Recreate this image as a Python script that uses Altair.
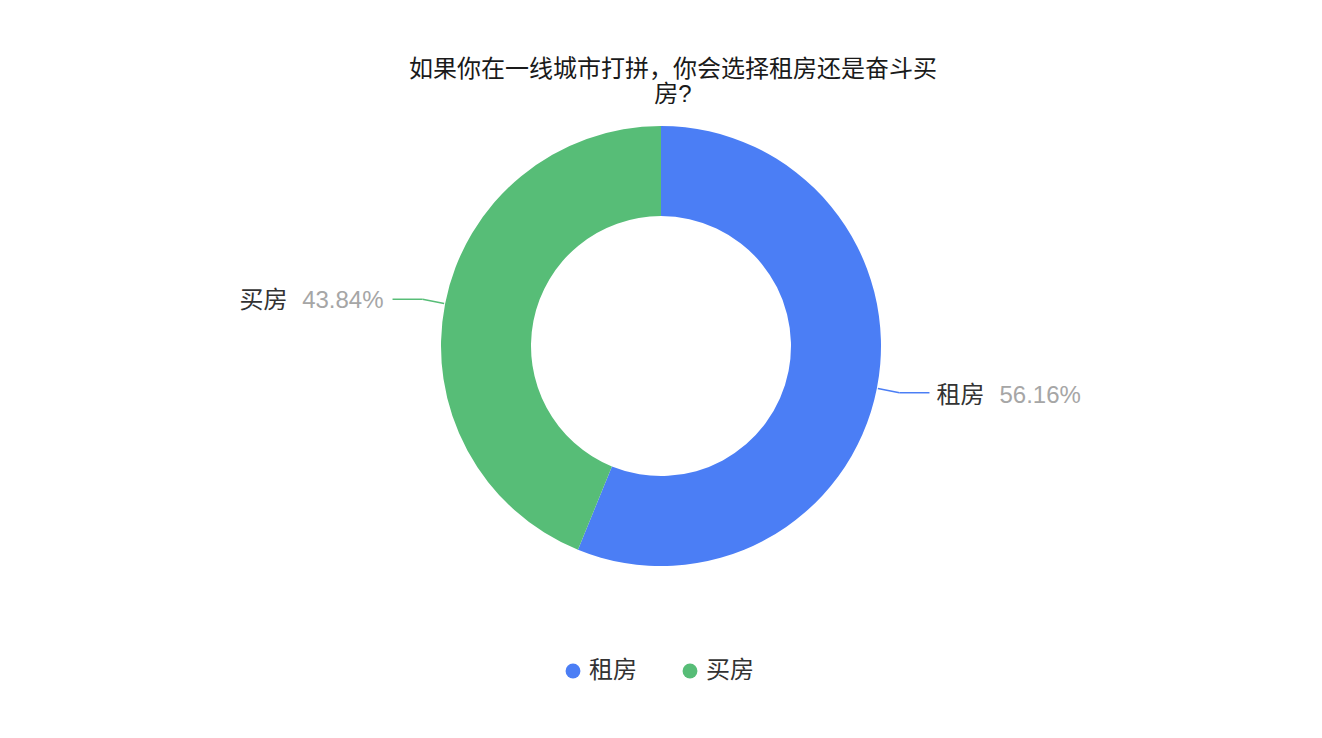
import altair as alt
import pandas as pd

categories = ["租房", "买房"]
values = [56.16, 43.84]
colors = ["#4B7EF5", "#57BD77"]
title_lines = ["如果你在一线城市打拼，你会选择租房还是奋斗买", "房?"]

W = 1306
H = 462
CX = W / 2
CY = H / 2
R_OUT = 220
R_IN = 130

df = pd.DataFrame({"category": categories, "value": values, "order": list(range(len(categories)))})

FONT = "Liberation Sans, Noto Sans CJK SC, sans-serif"

color_scale = alt.Scale(domain=categories, range=colors)

base = alt.Chart(df).transform_joinaggregate(
    total="sum(value)"
).transform_window(
    cum="sum(value)", sort=[alt.SortField("order")], frame=[None, 0]
).transform_calculate(
    mid="2*PI*(datum.cum - datum.value/2)/datum.total",
).transform_calculate(
    side="sin(datum.mid) >= 0 ? 1 : -1",
    x1=f"{CX} + {R_OUT + 1}*sin(datum.mid)",
    y1=f"{CY} - {R_OUT + 1}*cos(datum.mid)",
    x2=f"{CX} + {R_OUT + 23}*sin(datum.mid)",
    y2=f"{CY} - {R_OUT + 23}*cos(datum.mid)",
    pct="format(datum.value, '.2f') + '%'",
).transform_calculate(
    x3="datum.x2 + datum.side*30",
)

arc = alt.Chart(df).mark_arc(innerRadius=R_IN, outerRadius=R_OUT).encode(
    theta=alt.Theta("value:Q", stack=True),
    order=alt.Order("order:Q"),
    color=alt.Color(
        "category:N",
        scale=color_scale,
        sort=categories,
        legend=alt.Legend(
            title=None,
            orient="none",
            direction="horizontal",
            legendX=553,
            legendY=544,
            symbolType="circle",
            symbolSize=220,
            symbolStrokeWidth=0,
            labelFontSize=24,
            labelFont=FONT,
            labelColor="#333333",
            labelOffset=4,
            columnPadding=41,
        ),
    ),
)

lead1 = base.mark_rule(strokeWidth=1.5).encode(
    x=alt.X("x1:Q", scale=None),
    y=alt.Y("y1:Q", scale=None),
    x2="x2:Q",
    y2="y2:Q",
    color=alt.Color("category:N", scale=color_scale, legend=None),
)
lead2 = base.mark_rule(strokeWidth=1.5).encode(
    x=alt.X("x2:Q", scale=None),
    y=alt.Y("y2:Q", scale=None),
    x2="x3:Q",
    y2="y2:Q",
    color=alt.Color("category:N", scale=color_scale, legend=None),
)

right = base.transform_filter("datum.side > 0")
left = base.transform_filter("datum.side < 0")

name_r = right.mark_text(align="left", baseline="middle", fontSize=24, font=FONT, color="#333333", dy=3).encode(
    x=alt.X("x3:Q", scale=None), y=alt.Y("y2:Q", scale=None), text="category:N"
).transform_calculate(x3="datum.x3 + 7")
pct_r = right.mark_text(align="left", baseline="middle", fontSize=24, font=FONT, color="#A6A6A6", dy=3).encode(
    x=alt.X("xp:Q", scale=None), y=alt.Y("y2:Q", scale=None), text="pct:N"
).transform_calculate(xp="datum.x3 + 70")
pct_l = left.mark_text(align="right", baseline="middle", fontSize=24, font=FONT, color="#A6A6A6", dy=2).encode(
    x=alt.X("xp:Q", scale=None), y=alt.Y("y2:Q", scale=None), text="pct:N"
).transform_calculate(xp="datum.x3 - 9")
name_l = left.mark_text(align="right", baseline="middle", fontSize=24, font=FONT, color="#333333", dy=2).encode(
    x=alt.X("xn:Q", scale=None), y=alt.Y("y2:Q", scale=None), text="category:N"
).transform_calculate(xn="datum.x3 - 105")

chart = alt.layer(arc, lead1, lead2, name_r, pct_r, pct_l, name_l).properties(
    width=W,
    height=H,
    padding={"left": 0, "right": 0, "top": 50, "bottom": 0},
    title=alt.Title(
        text=title_lines,
        fontSize=24,
        lineHeight=25,
        font=FONT,
        fontWeight="normal",
        color="#1A1A1A",
        anchor="middle",
        offset=8,
        dx=12,
    ),
).configure_view(stroke=None)

chart.save("out.html", embed_options={"renderer": "svg", "actions": False})
